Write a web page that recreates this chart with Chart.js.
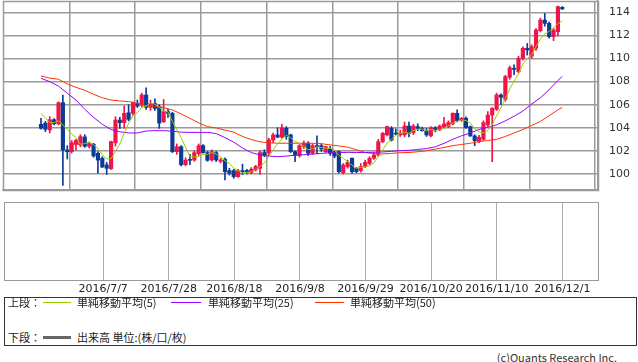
<!DOCTYPE html>
<html>
<head>
<meta charset="utf-8">
<script src="https://cdn.jsdelivr.net/npm/chart.js@4.4.0/dist/chart.umd.min.js"></script>
<style>
  body { margin: 0; width: 638px; height: 362px; overflow: hidden; position: relative; background: #fff;
         font-family: "Noto Sans CJK JP", sans-serif; font-size: 11px; color: #222; }
  canvas { position: absolute; left: 0; }
  #upper { top: 0; }
  #lower { top: 196px; }
  .box { position: absolute; left: 4px; top: 297px; width: 633px; height: 49px; border: 1px solid #333; box-sizing: border-box; }
  .t { position: absolute; line-height: 14px; white-space: nowrap; }
  .ln { position: absolute; height: 1px; }
</style>
</head>
<body>
<canvas id="upper" width="638" height="192"></canvas>
<canvas id="lower" width="638" height="100"></canvas>

<div class="box"></div>
<div class="t" style="left:8px;top:295px">上段：</div>
<div class="ln" style="left:43px;top:302px;width:28px;background:#99cc00"></div>
<div class="t" style="left:77px;top:295px">単純移動平均(5)</div>
<div class="ln" style="left:171px;top:302px;width:30px;background:#9900ff"></div>
<div class="t" style="left:208px;top:295px">単純移動平均(25)</div>
<div class="ln" style="left:315px;top:302px;width:29px;background:#ff3300"></div>
<div class="t" style="left:350px;top:295px">単純移動平均(50)</div>
<div class="t" style="left:8px;top:330px">下段：</div>
<div class="ln" style="left:43px;top:336px;width:28px;height:3px;background:#666"></div>
<div class="t" style="left:77px;top:330px">出来高 単位:(株/口/枚)</div>
<div class="t" style="right:21px;top:350px;color:#333">(c)Quants Research Inc.</div>

<script>
// USD/JPY daily candles 2016/6/17 .. 2016/12/1, index 0..119 (weekdays)
const dateLabels = ["2016/7/7", "2016/7/28", "2016/8/18", "2016/9/8", "2016/9/29", "2016/10/20", "2016/11/10", "2016/12/1"];
const tickIdx = [14, 29, 44, 59, 74, 89, 104, 119];
const priceTicks = [100, 102, 104, 106, 108, 110, 112, 114];

const opens = [104.30,104.40,103.81,104.70,104.33,106.17,102.08,101.93,102.55,102.50,
  103.20,102.40,102.57,101.79,101.36,100.78,100.45,102.70,104.67,104.44,
  105.30,105.25,106.12,105.97,106.84,105.77,106.10,105.83,104.53,105.40,
  105.25,101.93,102.36,100.80,101.25,101.20,101.75,102.45,101.85,101.21,
  101.85,101.10,101.27,100.29,100.29,99.77,100.29,100.29,100.11,100.35,
  100.49,101.85,101.85,102.94,103.38,103.18,103.95,103.38,101.93,101.59,
  102.37,102.66,101.79,102.45,102.45,101.93,102.16,101.93,101.93,100.11,
  100.64,101.36,100.49,100.29,100.64,100.92,101.36,101.64,102.80,103.38,
  103.95,103.52,103.38,103.38,104.15,103.58,104.10,103.95,103.72,103.30,
  104.00,103.82,104.10,104.10,104.33,105.25,104.67,104.82,104.10,103.29,
  102.80,103.00,104.24,105.10,105.60,106.84,106.46,108.37,109.15,108.86,
  110.00,110.88,110.20,110.88,112.41,113.33,113.04,111.89,112.32,114.43];
const highs = [104.82,104.55,104.96,104.80,106.25,106.84,102.45,102.90,103.00,103.40,
  103.40,102.75,102.65,101.93,101.50,101.00,102.85,104.96,104.90,105.90,
  106.00,106.25,106.40,107.00,107.45,106.40,106.50,106.00,106.45,105.60,
  105.35,102.60,102.45,101.40,101.70,102.00,102.60,102.55,101.95,102.10,
  101.95,101.35,101.40,100.50,100.40,100.40,100.85,100.40,100.55,100.75,
  102.00,102.10,103.10,103.55,104.00,104.30,104.10,103.45,102.00,102.55,
  102.85,102.80,102.60,103.30,102.60,102.40,102.40,102.00,102.00,100.90,
  101.20,101.40,100.55,100.90,101.20,101.50,101.85,103.00,103.60,104.15,
  104.10,103.90,103.80,104.50,104.50,104.30,104.35,104.05,103.95,104.10,
  104.10,104.25,104.90,104.60,105.30,105.55,104.90,104.95,104.15,103.40,
  103.35,104.60,105.40,105.75,107.00,106.95,108.55,109.35,109.45,110.20,
  111.00,111.30,111.20,112.60,113.50,113.90,113.15,112.60,114.55,114.50];
const lows = [103.87,103.67,103.55,104.25,104.25,99.00,101.30,101.80,102.08,102.35,
  102.30,102.25,101.45,100.06,100.55,99.97,100.40,102.42,103.95,103.95,
  104.60,105.10,105.75,105.80,105.60,105.50,105.50,103.95,104.45,104.90,
  101.85,101.70,100.70,100.70,100.80,101.10,101.60,101.80,101.10,101.10,
  101.07,100.95,99.48,99.90,99.62,99.70,99.95,100.00,100.00,100.25,
  99.97,101.50,101.60,102.70,103.15,103.10,103.00,101.85,101.07,101.45,
  102.20,101.60,101.70,101.75,101.95,101.85,101.60,101.40,100.10,100.00,
  100.50,100.05,100.10,100.15,100.55,100.80,101.25,101.55,102.70,103.30,
  102.85,103.40,103.25,103.20,103.20,103.40,103.75,103.70,103.25,103.20,
  103.65,103.75,104.00,104.00,104.25,104.50,104.55,103.95,103.25,102.45,
  102.70,102.90,104.10,101.06,105.50,106.00,106.30,108.20,108.60,108.75,
  109.85,110.30,110.00,110.70,112.30,112.80,111.75,111.55,111.95,114.25];
const closes = [103.96,103.87,104.70,104.35,106.17,102.08,101.93,102.71,102.90,103.23,
  102.40,102.62,101.56,101.20,100.60,100.49,102.80,104.67,104.44,105.25,
  104.73,106.17,105.88,106.84,105.77,106.10,105.68,104.40,105.40,105.25,
  101.93,102.36,100.80,101.20,101.18,101.85,102.45,101.85,101.18,101.93,
  101.21,101.21,100.20,100.06,99.77,100.29,100.20,100.20,100.41,100.64,
  101.85,101.64,102.94,103.38,103.18,104.00,103.23,101.93,101.64,102.45,
  102.66,101.79,102.45,102.37,102.16,102.37,101.79,101.55,100.20,100.78,
  101.01,100.20,100.20,100.64,101.01,101.36,101.64,102.80,103.52,104.10,
  102.94,103.45,103.52,104.15,103.52,104.15,103.95,103.75,103.38,104.00,
  103.82,104.15,104.33,104.45,105.25,104.62,104.82,104.02,103.29,102.89,
  103.18,104.44,105.10,105.68,106.84,106.64,108.43,109.20,109.06,110.01,
  110.88,110.74,111.02,112.47,113.33,113.04,111.89,112.47,114.49,114.29];

// 5-day average, one value per candle
const sma5 = [105.25,104.85,104.45,104.45,104.61,104.23,103.85,103.45,103.16,102.57,
  102.63,102.77,102.54,102.20,101.68,101.29,101.33,101.95,102.60,103.53,
  104.38,105.05,105.29,105.77,105.88,106.15,106.05,105.76,105.47,105.37,
  104.53,103.87,103.15,102.31,101.49,101.48,101.50,101.71,101.70,101.85,
  101.72,101.48,101.15,100.92,100.49,100.31,100.10,100.10,100.17,100.35,
  100.66,100.95,101.50,102.09,102.60,103.03,103.35,103.14,102.80,102.65,
  102.38,102.09,102.20,102.34,102.29,102.23,102.23,102.05,101.61,101.34,
  101.07,100.75,100.48,100.57,100.61,100.68,100.97,101.49,102.07,102.68,
  103.00,103.36,103.51,103.63,103.52,103.76,103.86,103.90,103.75,103.85,
  103.78,103.82,103.94,104.15,104.40,104.56,104.69,104.63,104.40,103.93,
  103.64,103.56,103.78,104.26,105.05,105.74,106.54,107.36,108.03,108.67,
  109.52,109.98,110.34,111.02,111.69,112.12,112.35,112.64,113.04,113.24];

// 25/50-day averages every other candle
const maIdx = [0,2,4,6,8,10,12,14,16,18,20,22,24,26,28,30,32,34,36,38,40,42,44,46,48,50,52,54,56,58,
  60,62,64,66,68,70,72,74,76,78,80,82,84,86,88,90,92,94,96,98,100,102,104,106,108,110,112,114,116,118,119];
const sma25 = [108.28,108.00,107.60,107.00,106.40,105.60,104.90,104.30,103.85,103.65,103.55,103.55,103.72,103.75,103.75,
  103.70,103.62,103.60,103.60,103.60,103.50,103.15,102.75,102.25,101.85,101.65,101.55,101.50,101.55,101.62,
  101.66,101.72,101.78,101.84,101.86,101.87,101.86,101.85,101.88,101.90,101.96,102.02,102.05,102.12,102.20,
  102.35,102.65,103.00,103.30,103.55,103.85,104.05,104.25,104.60,105.00,105.45,106.05,106.60,107.30,108.10,108.45];
const sma50 = [108.48,108.30,108.20,107.80,107.50,107.25,106.90,106.60,106.40,106.32,106.27,106.10,105.92,105.86,105.75,
  105.55,105.20,104.82,104.42,104.10,103.98,103.80,103.62,103.25,102.98,102.78,102.70,102.66,102.66,102.66,
  102.66,102.66,102.62,102.52,102.43,102.32,102.10,101.86,101.76,101.74,101.78,101.84,101.86,101.92,102.02,
  102.15,102.30,102.45,102.55,102.66,102.80,102.90,103.00,103.25,103.55,103.85,104.20,104.55,105.05,105.55,105.77];

const RED = "#f0144a";
const BLUE = "#0d3a96";
const GREEN = "#99cc00";
const PURPLE = "#9900ff";
const ORANGE = "#ff3300";
const GRID = "#9a9a9a";

const X_MIN = -8.67, X_MAX = 127.15;
const idx = closes.map((_, i) => i);
const candleColor = idx.map((i) => (closes[i] >= opens[i] ? RED : BLUE));

// frame round the plot area (Chart.js only draws the axis side)
const frame = (color, width) => ({
  id: "frame",
  beforeDatasetsDraw(chart) {
    const { ctx, chartArea: a } = chart;
    ctx.save();
    ctx.strokeStyle = color;
    ctx.lineWidth = width;
    ctx.strokeRect(Math.round(a.left) + 0.5, Math.round(a.top) + 0.5, Math.round(a.right - a.left), Math.round(a.bottom - a.top));
    ctx.restore();
  },
});

const fixTicks = (vals) => (scale) => { scale.ticks = vals.map((v) => ({ value: v })); };
// pin an axis to a fixed size and drop the label overhang padding Chart.js adds
const pin = (prop, size) => (s) => {
  s[prop] = size;
  s.paddingTop = s.paddingBottom = s.paddingLeft = s.paddingRight = 0;
};

new Chart(document.getElementById("upper"), {
  type: "bar",
  data: {
    datasets: [
      { type: "line", data: idx.map((i) => ({ x: i, y: sma5[i] })), borderColor: GREEN, borderWidth: 1, pointRadius: 0, order: 0 },
      { type: "line", data: maIdx.map((x, k) => ({ x, y: sma25[k] })), borderColor: PURPLE, borderWidth: 1, pointRadius: 0, order: 0 },
      { type: "line", data: maIdx.map((x, k) => ({ x, y: sma50[k] })), borderColor: ORANGE, borderWidth: 1, pointRadius: 0, order: 0 },
      { data: idx.map((i) => ({ x: i, y: [lows[i], highs[i]] })), backgroundColor: candleColor, barThickness: 1, grouped: false, order: 2 },
      { data: idx.map((i) => ({ x: i, y: [opens[i], closes[i]] })), backgroundColor: candleColor, barThickness: 3.5, minBarLength: 1, grouped: false, order: 1 },
    ],
  },
  options: {
    responsive: false,
    animation: false,
    layout: { padding: { left: 3, top: 1, right: 0, bottom: 0 } },
    scales: {
      x: {
        type: "linear", min: X_MIN, max: X_MAX, offset: false,
        afterBuildTicks: fixTicks(tickIdx),
        afterFit: pin("height", 2),
        ticks: { display: false },
        grid: { color: GRID, lineWidth: 1.5, drawTicks: false },
        border: { color: GRID, width: 1.5 },
      },
      y: {
        position: "right", min: 98.61, max: 114.98,
        afterBuildTicks: fixTicks(priceTicks),
        afterFit: pin("width", 40),
        ticks: { padding: 11, color: "#333", font: { family: "DejaVu Sans", size: 11 } },
        grid: { color: GRID, lineWidth: 1.5, drawTicks: false },
        border: { color: GRID, width: 1.5 },
      },
    },
    plugins: { legend: { display: false }, tooltip: { enabled: false } },
  },
  plugins: [frame(GRID, 1.5)],
});

// lower (volume) panel: empty frame with the date axis
new Chart(document.getElementById("lower"), {
  type: "line",
  data: { datasets: [{ data: [] }] },
  options: {
    responsive: false,
    animation: false,
    layout: { padding: { left: 4, top: 6, right: 40, bottom: 0 } },
    scales: {
      x: {
        type: "linear", min: X_MIN, max: X_MAX,
        afterBuildTicks: fixTicks(tickIdx),
        afterFit: pin("height", 16),
        ticks: {
          autoSkip: false, maxRotation: 0, minRotation: 0, padding: 3, color: "#222",
          font: { family: "DejaVu Sans", size: 11 },
          callback: (v) => dateLabels[tickIdx.indexOf(v)],
        },
        grid: { color: "#aaa", lineWidth: 1, drawTicks: false },
        border: { display: false },
      },
      y: { display: false, min: 0, max: 1 },
    },
    plugins: { legend: { display: false }, tooltip: { enabled: false } },
  },
  plugins: [frame("#999", 1)],
});
</script>
</body>
</html>
